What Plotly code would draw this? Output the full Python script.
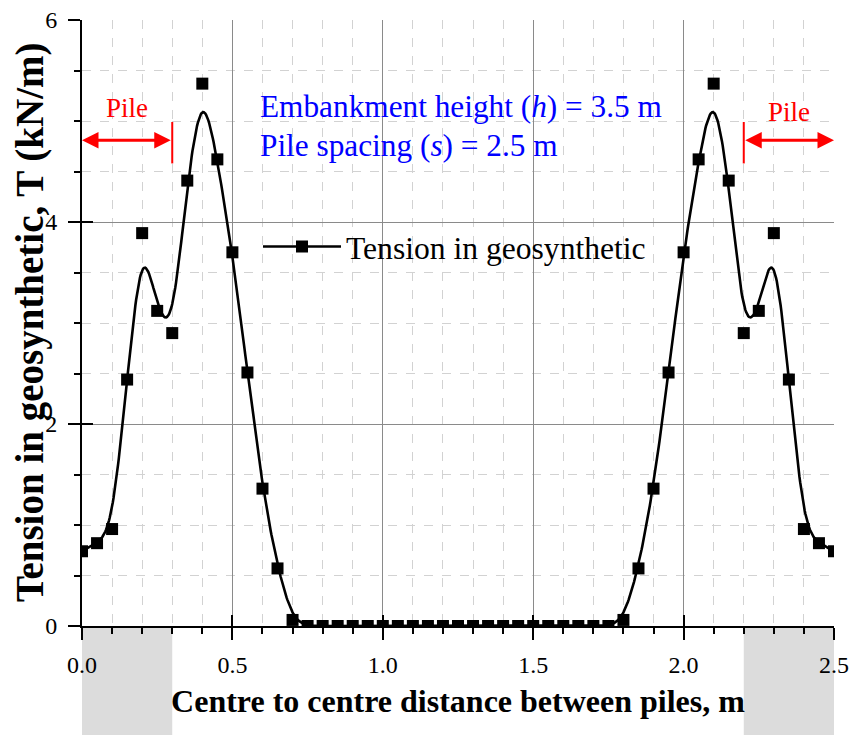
import numpy as np
import plotly.graph_objects as go

# ---------------- data ----------------
distance = [0.00, 0.05, 0.10, 0.15, 0.20, 0.25, 0.30, 0.35, 0.40, 0.45,
            0.50, 0.55, 0.60, 0.65, 0.70, 0.75, 0.80, 0.85, 0.90, 0.95,
            1.00, 1.05, 1.10, 1.15, 1.20, 1.25, 1.30, 1.35, 1.40, 1.45,
            1.50, 1.55, 1.60, 1.65, 1.70, 1.75, 1.80, 1.85, 1.90, 1.95,
            2.00, 2.05, 2.10, 2.15, 2.20, 2.25, 2.30, 2.35, 2.40, 2.45, 2.50]
tension = [0.74, 0.82, 0.96, 2.44, 3.89, 3.12, 2.90, 4.41, 5.37, 4.62,
           3.70, 2.51, 1.36, 0.57, 0.06, 0.00, 0.00, 0.00, 0.00, 0.00,
           0.00, 0.00, 0.00, 0.00, 0.00, 0.00, 0.00, 0.00, 0.00, 0.00,
           0.00, 0.00, 0.00, 0.00, 0.00, 0.00, 0.06, 0.57, 1.36, 2.51,
           3.70, 4.62, 5.37, 4.41, 2.90, 3.12, 3.89, 2.44, 0.96, 0.82, 0.74]
pile_regions = [(0.0, 0.3), (2.2, 2.5)]
x_range = [0.0, 2.5]
y_range = [0.0, 6.0]
series_name = "Tension in geosynthetic"
x_title = "Centre to centre distance between piles, m"
y_title = "Tension in geosynthetic, T (kN/m)"
note_lines = ["Embankment height (<i>h</i>) = 3.5 m", "Pile spacing (<i>s</i>) = 2.5 m"]
pile_label = "Pile"

# ------- B-spline connection of the data points (Origin style) -------
P = np.column_stack([distance, tension]).astype(float)
ext = np.vstack([2 * P[0] - P[1], P, 2 * P[-1] - P[-2]])
t = np.linspace(0, 1, 21)[:-1]
b0 = (1 - t) ** 3 / 6
b1 = (3 * t ** 3 - 6 * t ** 2 + 4) / 6
b2 = (-3 * t ** 3 + 3 * t ** 2 + 3 * t + 1) / 6
b3 = t ** 3 / 6
segs = []
for i in range(len(P) - 1):
    segs.append(np.outer(b0, ext[i]) + np.outer(b1, ext[i + 1])
                + np.outer(b2, ext[i + 2]) + np.outer(b3, ext[i + 3]))
segs.append(P[-1:])
curve = np.vstack(segs)

SERIF = "Liberation Serif"
W, H = 852, 735
ML, MR, MT, MB = 82, 18, 20, 109
PW, PH = W - ML - MR, H - MT - MB

fig = go.Figure()
fig.add_trace(go.Scatter(x=curve[:, 0], y=curve[:, 1], mode="lines",
                         line=dict(color="black", width=2.6),
                         showlegend=False, hoverinfo="skip"))
fig.add_trace(go.Scatter(x=distance, y=tension, mode="markers",
                         marker=dict(symbol="square", size=12, color="black"),
                         showlegend=False))
# legend entry (line + symbol) on overlay axes
fig.add_trace(go.Scatter(x=[None], y=[None], mode="lines+markers", name=series_name,
                         line=dict(color="black", width=2.6),
                         marker=dict(symbol="square", size=12, color="black"),
                         xaxis="x2", yaxis="y2"))

axis_common = dict(showline=True, linecolor="black", linewidth=2,
                   ticks="outside", ticklen=12, tickwidth=2, tickcolor="black",
                   showgrid=True, gridcolor="#8a8a8a", gridwidth=1,
                   zeroline=False, tickfont=dict(family=SERIF, size=24, color="black"))

fig.update_layout(
    width=W, height=H,
    margin=dict(l=ML, r=MR, t=MT, b=MB, autoexpand=False),
    paper_bgcolor="white", plot_bgcolor="white",
    font=dict(family=SERIF, color="black"),
    xaxis=dict(range=x_range, tick0=0, dtick=0.5, tickformat=".1f",
               minor=dict(dtick=0.1, ticks="outside", ticklen=6, tickwidth=2,
                          tickcolor="black", showgrid=True, gridcolor="#d2d2d2",
                          griddash="dash", gridwidth=1),
               ticklabelstandoff=4,
               title=dict(text=x_title, font=dict(family=SERIF, size=32, weight="bold"),
                          standoff=13),
               automargin=False, **axis_common),
    yaxis=dict(range=y_range, tick0=0, dtick=2,
               minor=dict(dtick=0.5, ticks="outside", ticklen=6, tickwidth=2,
                          tickcolor="black", showgrid=True, gridcolor="#d2d2d2",
                          griddash="dash", gridwidth=1),
               ticklabelstandoff=6,
               automargin=False, **axis_common),
    xaxis2=dict(overlaying="x", anchor="y2", range=x_range, tick0=0, dtick=0.5,
                ticks="inside", ticklen=11, tickwidth=2, tickcolor="black",
                showticklabels=False, showgrid=False, showline=False, zeroline=False),
    yaxis2=dict(overlaying="y", anchor="x2", range=y_range, tick0=0, dtick=2,
                ticks="inside", ticklen=11, tickwidth=2, tickcolor="black",
                showticklabels=False, showgrid=False, showline=False, zeroline=False),
    legend=dict(x=(258 - ML) / PW, y=(H - MB - 247) / PH,
                xanchor="left", yanchor="middle", bgcolor="rgba(0,0,0,0)",
                borderwidth=0, itemwidth=78,
                font=dict(family=SERIF, size=31.6, color="black")),
    showlegend=True,
)

# y-axis title as rotated text
fig.add_annotation(xref="paper", yref="paper", x=(30 - ML) / PW, y=0.5,
                   xanchor="center", yanchor="middle", textangle=-90,
                   text=y_title, showarrow=False,
                   font=dict(family=SERIF, size=39, weight="bold", color="black"))

# grey pile strips below the x axis
span = x_range[1] - x_range[0]
for a, b in pile_regions:
    fig.add_shape(type="rect", xref="paper", yref="paper",
                  x0=(a - x_range[0]) / span, x1=(b - x_range[0]) / span,
                  y0=0, y1=-MB / PH, layer="below",
                  fillcolor="#dcdcdc", line=dict(width=0))

# pile arrows, edge markers and labels
arrow_y = 4.81
(l0, l1), (r0, r1) = pile_regions
for edge in (l1, r0):
    fig.add_shape(type="line", xref="x", yref="y", x0=edge, x1=edge, y0=4.58, y1=4.99,
                  line=dict(color="red", width=2))
for head, tail in ((l0, l1), (r1, r0)):
    fig.add_annotation(x=head, y=arrow_y, ax=tail, ay=arrow_y, axref="x", ayref="y",
                       xref="x", yref="y", text="", showarrow=True,
                       arrowside="end+start", arrowhead=2, arrowsize=1.1,
                       arrowwidth=3, arrowcolor="red", standoff=0, startstandoff=0)
fig.add_annotation(x=(l0 + l1) / 2, y=5.13, text=pile_label, showarrow=False,
                   font=dict(family=SERIF, size=27, color="red"))
fig.add_annotation(x=(r0 + r1) / 2, y=5.09, text=pile_label, showarrow=False,
                   font=dict(family=SERIF, size=27, color="red"))

# blue notes
for txt, yy in zip(note_lines, (5.14, 4.76)):
    fig.add_annotation(x=0.585, y=yy, xanchor="left", yanchor="middle", text=txt,
                       showarrow=False, font=dict(family=SERIF, size=31.3, color="blue"))

fig.write_html("out.html")
